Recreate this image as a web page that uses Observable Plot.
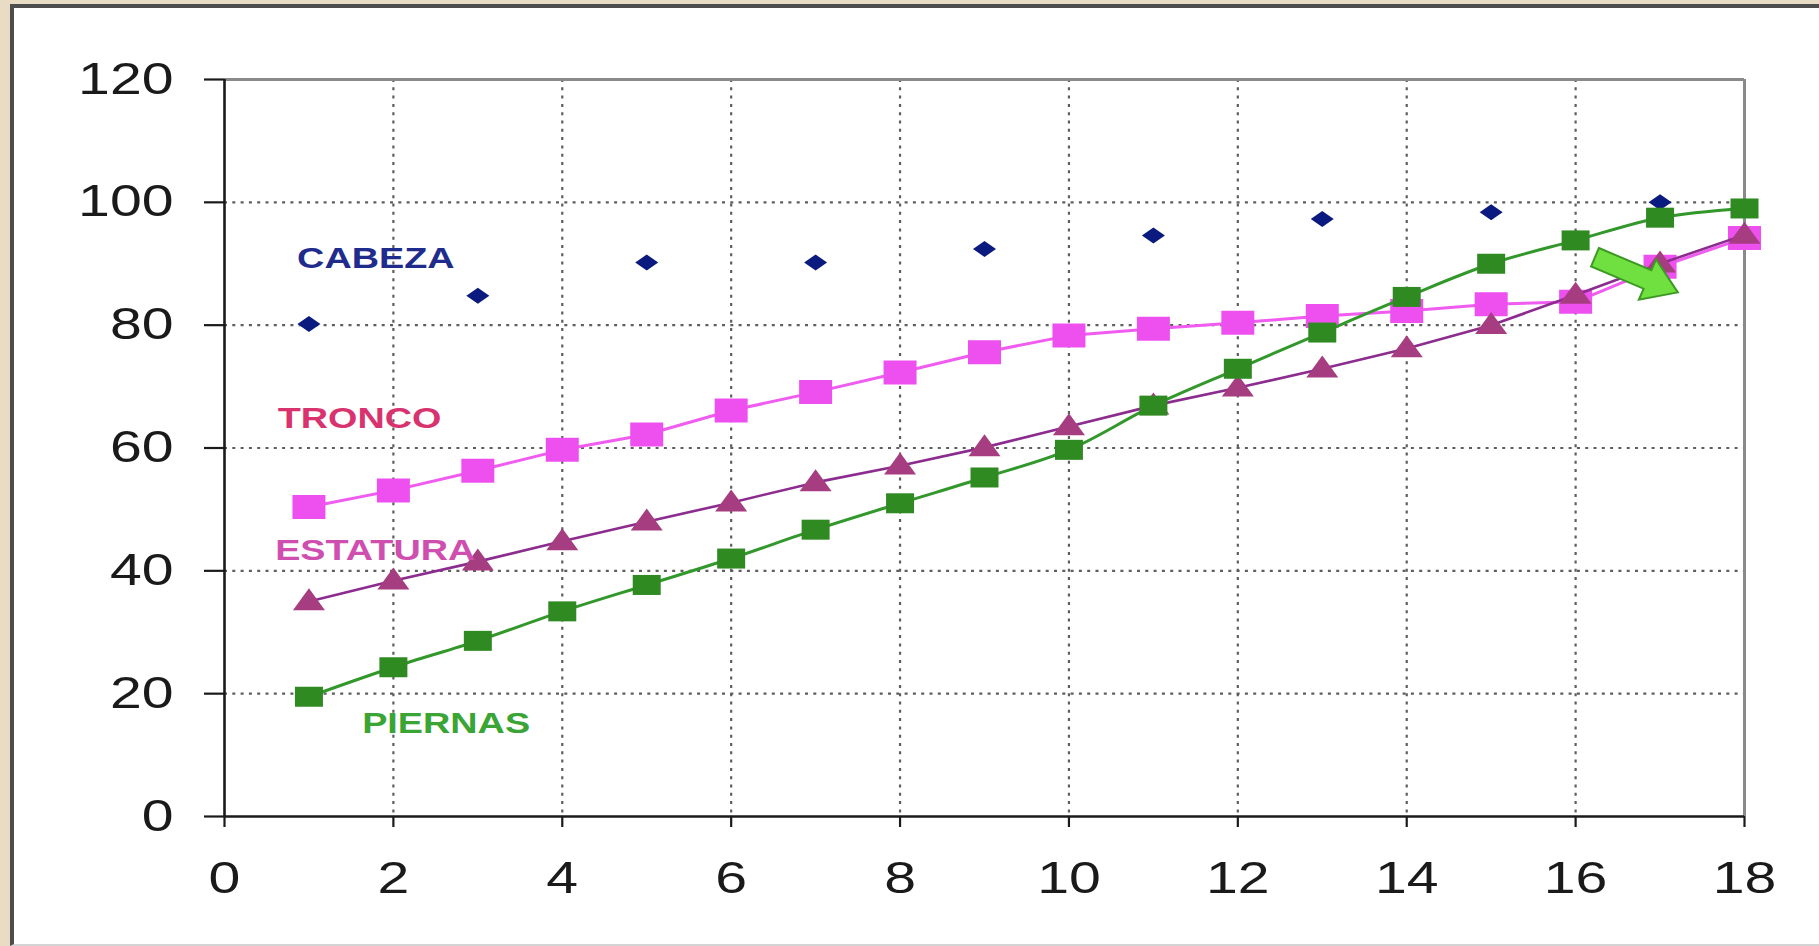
<!DOCTYPE html>
<html><head><meta charset="utf-8">
<script src="https://cdn.jsdelivr.net/npm/d3@7"></script>
<script src="https://cdn.jsdelivr.net/npm/@observablehq/plot@0.6"></script>
<style>
html,body{margin:0;padding:0;width:1819px;height:946px;overflow:hidden;background:#e9dcc5;}
#panel{position:absolute;left:10px;top:4px;width:1830px;height:936px;background:#fff;border-left:4px solid #4d4d4d;border-top:4px solid #4d4d4d;border-bottom:2px solid #d4d4d4;}
#chart{position:absolute;left:0;top:0;}
</style></head><body>
<div id="panel"></div><div id="chart"></div>
<script>
// ---- data ----
const edades = [1,2,3,4,5,6,7,8,9,10,11,12,13,14,15,16,17,18];
const cabezaEdades = [1,3,5,7,9,11,13,15,17];
const cabeza = [80.2, 84.8, 90.2, 90.2, 92.4, 94.6, 97.3, 98.4, 100.0];
const tronco = [50.4, 53.1, 56.3, 59.7, 62.2, 66.1, 69.1, 72.3, 75.6, 78.3, 79.4, 80.4, 81.5, 82.3, 83.4, 83.8, 89.5, 94.2];
const estatura = [35.0, 38.4, 41.5, 44.8, 48.0, 51.1, 54.4, 57.1, 60.1, 63.5, 66.9, 69.8, 72.9, 76.2, 80.0, 84.9, 90.0, 94.7];
const piernas = [19.5, 24.3, 28.6, 33.4, 37.7, 42.0, 46.7, 51.0, 55.2, 59.7, 66.9, 72.9, 78.8, 84.6, 90.0, 93.8, 97.5, 99.0];
const xTicks = [0,2,4,6,8,10,12,14,16,18];
const yTicks = [0,20,40,60,80,100,120];
const etiquetas = ["CABEZA","TRONCO","ESTATURA","PIERNAS"];
const etiquetaX = [0.86, 0.63, 0.60, 1.63];
const etiquetaY = [90.9, 64.9, 43.3, 15.1];
const etiquetaColor = ["#1f2c8c", "#d8336f", "#cf4fb0", "#3aa535"];
const flechaX = [16.72];
const flechaY = [88.2];

// ---- table builders ----
const rows = (xs, ys) => xs.map((x, i) => ({x, y: ys[i]}));
const labelRows = etiquetas.map((t, i) => ({t, x: etiquetaX[i], y: etiquetaY[i], c: etiquetaColor[i]}));

// ---- custom marker shapes (stretched like the original) ----
const poly = (pts) => ({draw(ctx) { ctx.moveTo(pts[0][0], pts[0][1]); for (const p of pts.slice(1)) ctx.lineTo(p[0], p[1]); ctx.closePath(); }});
const rectSym = (w, h) => poly([[-w/2,-h/2],[w/2,-h/2],[w/2,h/2],[-w/2,h/2]]);
const triSym = (w, h) => poly([[0,-h*0.6],[w/2,h*0.4],[-w/2,h*0.4]]);
const diaSym = (w, h) => poly([[0,-h/2],[w/2,0],[0,h/2],[-w/2,0]]);
const arrowSym = (() => {
  const a = 23 * Math.PI / 180, c = Math.cos(a), s = Math.sin(a);
  const base = [[-45,-10],[12,-10],[12,-22],[45,0],[12,22],[12,10],[-45,10]];
  return poly(base.map(([x, y]) => [x*c - y*s, x*s + y*c]));
})();

const grid = {stroke: "#5e5e5e", strokeOpacity: 1, strokeWidth: 2.2, strokeDasharray: "3,5.3"};

const chart = Plot.plot({
  width: 1819, height: 946,
  marginLeft: 224, marginRight: 75, marginTop: 79, marginBottom: 130,
  x: {domain: [0, 18]},
  y: {domain: [0, 120]},
  style: {background: "transparent", fontFamily: "'Liberation Sans', Arial, sans-serif", color: "#1a1a1a"},
  marks: [
    Plot.gridX(xTicks.filter(d => d > 0 && d < 18), grid),
    Plot.gridY(yTicks.filter(d => d > 0 && d < 120), grid),
    Plot.ruleY([120], {stroke: "#8a8a8a", strokeWidth: 3}),
    Plot.ruleX([18], {stroke: "#8a8a8a", strokeWidth: 3}),
    Plot.axisY(yTicks, {tickSize: 20, tickPadding: 31, fontSize: 44, strokeWidth: 2.2, color: "#1a1a1a", label: null}),
    Plot.axisX(xTicks, {tickSize: 11, tickPadding: 34, fontSize: 44, strokeWidth: 2.2, color: "#1a1a1a", label: null}),
    Plot.ruleX([0], {stroke: "#1a1a1a", strokeWidth: 2.6}),
    Plot.ruleY([0], {stroke: "#1a1a1a", strokeWidth: 2.6}),
    // CABEZA
    Plot.dot(rows(cabezaEdades, cabeza), {x: "x", y: "y", r: 8, symbol: diaSym(23, 16), fill: "#0b1a7e", stroke: "none"}),
    // TRONCO
    Plot.line(rows(edades, tronco), {x: "x", y: "y", stroke: "#f05cf0", strokeWidth: 3}),
    Plot.dot(rows(edades, tronco), {x: "x", y: "y", r: 12, symbol: rectSym(33, 24), fill: "#ee50f0", stroke: "none"}),
    // ESTATURA
    Plot.line(rows(edades, estatura), {x: "x", y: "y", stroke: "#8c2c8e", strokeWidth: 2.6}),
    Plot.dot(rows(edades, estatura), {x: "x", y: "y", r: 11, symbol: triSym(32, 22), fill: "#a53d80", stroke: "none"}),
    // PIERNAS
    Plot.line(rows(edades, piernas), {x: "x", y: "y", stroke: "#33982b", strokeWidth: 3, curve: "catmull-rom"}),
    Plot.dot(rows(edades, piernas), {x: "x", y: "y", r: 10, symbol: rectSym(28, 20), fill: "#2f8a22", stroke: "none"}),
    // labels
    Plot.text(labelRows, {x: "x", y: "y", text: "t", fill: "c", textAnchor: "start", fontSize: 30, fontWeight: "bold"}),
    // arrow
    Plot.dot(rows(flechaX, flechaY), {x: "x", y: "y", r: 20, symbol: arrowSym, fill: "#6fe03f", stroke: "#3c9a24", strokeWidth: 2})
  ]
});

// stretch text horizontally like the original picture
function stretch(sel, k) {
  chart.querySelectorAll(sel).forEach(t => {
    const tr = t.getAttribute("transform");
    if (tr) t.setAttribute("transform", tr + ` scale(${k},1)`);
    else {
      const x = +t.getAttribute("x") || 0, y = +t.getAttribute("y") || 0;
      t.setAttribute("x", 0); t.setAttribute("y", 0);
      t.setAttribute("transform", `translate(${x},${y}) scale(${k},1)`);
    }
  });
}
stretch('g[aria-label$="tick label"] text', 1.3);
stretch('g[aria-label="text"] text', 1.26);

document.getElementById("chart").appendChild(chart);
</script>
</body></html>
